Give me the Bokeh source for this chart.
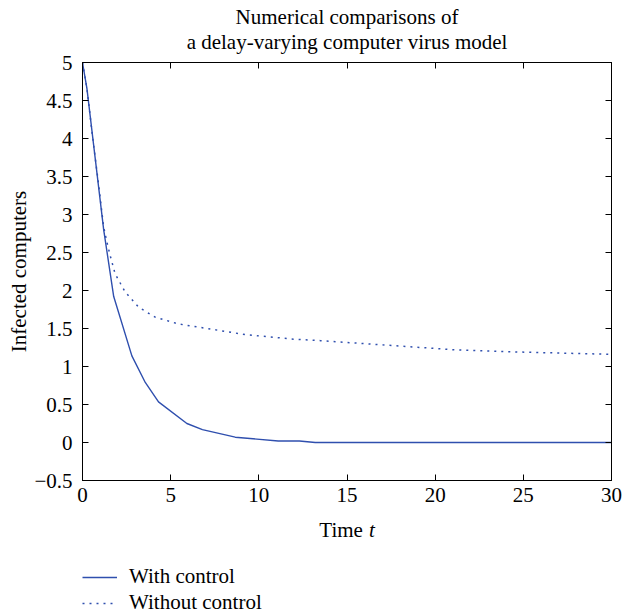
from bokeh.plotting import figure
from bokeh.layouts import column
from bokeh.models import (LinearAxis, Title, Label, Legend, LegendItem, FixedTicker, Range1d,
                          CustomLabelingPolicy)
from bokeh.embed import file_html
from bokeh.resources import INLINE

# ---- data ----
t_with = [0, 0.25, 1.2, 1.77, 2.8, 3.56, 4.31, 5.92, 6.8, 8.66, 11.1, 12.3, 13.2, 30]
i_with = [5.0, 4.66, 2.8, 1.92, 1.14, 0.79, 0.535, 0.25, 0.17, 0.07, 0.02, 0.02, 0.0, 0.0]

t_without = [0, 0.25, 0.62, 0.9, 1.19, 1.38, 1.57, 1.85, 2.42, 3.18, 4.12, 5.44, 7.33,
             9.22, 11.96, 13.5, 17.3, 21.1, 24.8, 30]
i_without = [5.0, 4.66, 3.93, 3.42, 2.85, 2.64, 2.46, 2.22, 1.98, 1.78, 1.65, 1.56, 1.49,
             1.42, 1.36, 1.34, 1.28, 1.22, 1.19, 1.16]

x_ticks = [0, 5, 10, 15, 20, 25, 30]
y_ticks = [-0.5, 0, 0.5, 1, 1.5, 2, 2.5, 3, 3.5, 4, 4.5, 5]
y_tick_labels = ["\u22120.5", "0", "0.5", "1", "1.5", "2", "2.5", "3", "3.5", "4", "4.5", "5"]

title_lines = ["Numerical comparisons of", "a delay-varying computer virus model"]
series_names = ["With control", "Without control"]
x_label_main = "Time"
x_label_var = "t"
y_label = "Infected computers"

FONT = "Liberation Serif"
FS = "21px"
BLUE = "#2f4fae"
W = 638
H_MAIN = 512
H_FOOT = 103

p = figure(width=W, height=H_MAIN, title=None,
           x_range=Range1d(0, 30), y_range=Range1d(-0.5, 5),
           min_border_left=82, min_border_right=27, min_border_top=62, min_border_bottom=32,
           output_backend="svg", toolbar_location=None)
p.outline_line_color = "black"
p.xgrid.visible = False
p.ygrid.visible = False
p.background_fill_color = "white"
p.border_fill_color = "white"

no_labels = CustomLabelingPolicy(code="""
for (const i of indices) indices.unset(i)
return indices
""")


def style_axis(ax, ticks, show_labels=True, hidden_label_size="0px"):
    ax.ticker = FixedTicker(ticks=ticks)
    ax.major_tick_in = 6
    ax.major_tick_out = 0
    ax.minor_tick_in = 0
    ax.minor_tick_out = 0
    ax.axis_line_color = "black"
    ax.major_tick_line_color = "black"
    ax.major_label_text_font = FONT
    ax.major_label_text_font_size = FS
    ax.major_label_text_color = "black"
    if not show_labels:
        # mirrored tick marks only (box-style axes): no labels drawn
        ax.major_label_policy = no_labels
        ax.major_label_text_font_size = hidden_label_size
        ax.major_label_standoff = 0


style_axis(p.xaxis[0], x_ticks)
p.xaxis[0].major_label_standoff = 7
style_axis(p.yaxis[0], y_ticks)
p.yaxis[0].major_label_standoff = 10
p.yaxis[0].major_label_overrides = {v: s for v, s in zip(y_ticks, y_tick_labels)}
p.yaxis[0].axis_label = y_label
p.yaxis[0].axis_label_text_font = FONT
p.yaxis[0].axis_label_text_font_size = FS
p.yaxis[0].axis_label_text_font_style = "normal"
p.yaxis[0].axis_label_text_color = "black"
p.yaxis[0].axis_label_standoff = 0

top_ax = LinearAxis()
# the (undrawn) label size reserves a small gap between the frame and the title
style_axis(top_ax, x_ticks, show_labels=False, hidden_label_size="9px")
p.add_layout(top_ax, "above")
right_ax = LinearAxis()
style_axis(right_ax, y_ticks, show_labels=False)
p.add_layout(right_ax, "right")

# two-line title (line closest to the frame is added first)
for line, so in zip(reversed(title_lines), [-1, 0]):
    p.add_layout(Title(text=line, align="center", vertical_align="bottom", text_font=FONT,
                       text_font_size=FS, text_font_style="normal", text_color="black",
                       standoff=so), "above")

r_with = p.line(t_with, i_with, line_color=BLUE, line_width=1.4)
r_without = p.line(t_without, i_without, line_color=BLUE, line_width=1.5, line_dash="2 5")

# ---- footer strip: x-axis title "Time t" and the legend ----
# its x range is shared with the plot; its y range runs in page rows (top = H_MAIN)
q = figure(width=W, height=H_FOOT, x_range=p.x_range, y_range=Range1d(H_MAIN + H_FOOT, H_MAIN),
           x_axis_type=None, y_axis_type=None,
           min_border_left=82, min_border_right=27, min_border_top=0, min_border_bottom=0,
           output_backend="svg", toolbar_location=None)
q.outline_line_color = None
q.xgrid.visible = False
q.ygrid.visible = False
q.background_fill_color = "white"
q.border_fill_color = "white"

q.add_layout(Label(x=15, y=529, x_offset=-27.7, text=x_label_main, text_align="left",
                   text_baseline="alphabetic", text_font=FONT, text_font_size=FS,
                   text_color="black"))
q.add_layout(Label(x=15, y=529, x_offset=21.9, text=x_label_var, text_align="left",
                   text_baseline="alphabetic", text_font=FONT, text_font_size=FS,
                   text_font_style="italic", text_color="black"))

# legend keys: the same series with the same styles (outside this strip's y range,
# so only their legend samples show here)
s_with = q.line(t_with, i_with, line_color=BLUE, line_width=1.4)
s_without = q.line(t_without, i_without, line_color=BLUE, line_width=1.5, line_dash="2 5")
legend = Legend(items=[LegendItem(label=series_names[0], renderers=[s_with]),
                       LegendItem(label=series_names[1], renderers=[s_without])],
                location=(0, 0), orientation="vertical",
                glyph_width=35, glyph_height=20, label_standoff=12, label_height=20,
                spacing=1, padding=0, margin=0, border_line_color=None,
                background_fill_alpha=0, label_text_font=FONT, label_text_font_size=FS,
                label_text_color="black")
q.add_layout(legend, "center")

layout = column(p, q, spacing=0)
open("out.html", "w").write(file_html(layout, INLINE))
